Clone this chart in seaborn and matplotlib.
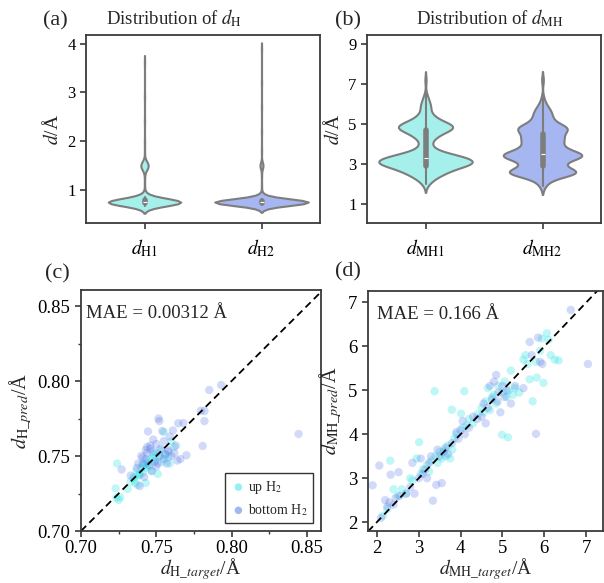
import numpy as np
import pandas as pd
import matplotlib
matplotlib.use("Agg")
import matplotlib.pyplot as plt
import seaborn as sns
from matplotlib.ticker import MultipleLocator, FormatStrFormatter

# ---------------- data ----------------
# violin (a): distribution of d_H (value grid + counts read from shape)
dH_cats = ["$d_{\\mathrm{H1}}$", "$d_{\\mathrm{H2}}$"]
dH1_vals = [0.66, 0.69, 0.71, 0.73, 0.75, 0.77, 0.79, 0.82, 0.86, 0.92, 1.10, 1.25,
            1.42, 1.48, 1.52, 1.58, 1.80, 2.00, 2.40, 2.90, 3.62]
dH1_cnts = [6, 20, 35, 55, 70, 50, 30, 14, 7, 4, 1, 1,
            6, 11, 10, 5, 1, 1, 1, 1, 1]
dH2_vals = [0.66, 0.69, 0.71, 0.73, 0.75, 0.77, 0.79, 0.82, 0.86, 0.92, 1.10, 1.30,
            1.46, 1.50, 1.54, 1.80, 2.20, 2.70, 3.20, 3.90]
dH2_cnts = [6, 22, 40, 70, 90, 65, 35, 14, 6, 3, 1, 1,
            3, 5, 3, 1, 1, 1, 1, 1]

# violin (b): distribution of d_MH
dMH_cats = ["$d_{\\mathrm{MH1}}$", "$d_{\\mathrm{MH2}}$"]
dMH1_vals = [2.0, 2.3, 2.6, 2.9, 3.1, 3.3, 3.5, 3.8, 4.1, 4.4, 4.7, 4.9,
             5.1, 5.4, 5.8, 6.1, 6.4, 7.2]
dMH1_cnts = [3, 10, 22, 32, 34, 30, 18, 7, 5, 12, 21, 21,
             14, 9, 6, 4, 2, 1]
dMH2_vals = [1.9, 2.2, 2.5, 2.65, 2.9, 3.1, 3.35, 3.5, 3.75, 4.0, 4.25, 4.5,
             4.75, 4.9, 5.2, 5.5, 5.75, 6.0, 6.3, 7.2]
dMH2_cnts = [2, 5, 18, 18, 8, 10, 20, 20, 12, 10, 13, 10,
             14, 10, 7, 6, 4, 2, 1, 1]

# scatter (c): d_H prediction vs target
upH_target = [0.723, 0.724, 0.7235, 0.725, 0.726, 0.731, 0.733, 0.735, 0.736, 0.7376,
              0.738, 0.739, 0.740, 0.741, 0.742, 0.743, 0.743, 0.744, 0.745, 0.746,
              0.747, 0.748, 0.749, 0.750, 0.751, 0.752, 0.753, 0.754, 0.755, 0.756,
              0.758, 0.759, 0.760, 0.762, 0.735, 0.737, 0.739, 0.741, 0.744, 0.748]
upH_pred = [0.7284, 0.745, 0.7222, 0.7207, 0.7225, 0.728, 0.733, 0.735, 0.732, 0.7307,
            0.737, 0.7373, 0.7418, 0.739, 0.744, 0.732, 0.742, 0.745, 0.743, 0.748,
            0.740, 0.7484, 0.747, 0.752, 0.738, 0.750, 0.754, 0.746, 0.766, 0.751,
            0.749, 0.745, 0.7596, 0.756, 0.736, 0.740, 0.738, 0.744, 0.746, 0.751]
botH_target = [0.727, 0.733, 0.737, 0.739, 0.740, 0.741, 0.742, 0.743, 0.744, 0.7445,
               0.745, 0.746, 0.747, 0.748, 0.749, 0.750, 0.751, 0.7515, 0.752, 0.753,
               0.754, 0.755, 0.756, 0.757, 0.758, 0.759, 0.760, 0.761, 0.762, 0.763,
               0.764, 0.7646, 0.766, 0.768, 0.770, 0.7808, 0.782, 0.782, 0.7796, 0.7852,
               0.7931, 0.8445, 0.741, 0.746, 0.750, 0.755, 0.738, 0.744, 0.752, 0.758,
               0.748, 0.743]
botH_pred = [0.741, 0.737, 0.742, 0.730, 0.750, 0.745, 0.736, 0.748, 0.752, 0.7664,
             0.744, 0.757, 0.740, 0.753, 0.746, 0.758, 0.745, 0.775, 0.7733, 0.755,
             0.7667, 0.748, 0.751, 0.745, 0.754, 0.763, 0.750, 0.767, 0.752, 0.757,
             0.747, 0.7718, 0.748, 0.772, 0.7505, 0.7567, 0.7733, 0.780, 0.7802, 0.794,
             0.7973, 0.7647, 0.749, 0.755, 0.743, 0.760, 0.745, 0.756, 0.750, 0.753,
             0.761, 0.754]

# scatter (d): d_MH prediction vs target
upMH_target = [2.15, 2.25, 2.4, 2.32, 2.5, 2.6, 2.7, 2.8, 2.85, 2.95, 3.01, 3.05, 3.1, 3.2,
               3.25, 3.3, 3.38, 3.4, 3.45, 3.5, 3.55, 3.6, 3.65, 3.7, 3.75, 3.79, 3.8, 3.85,
               3.9, 4.01, 4.05, 4.09, 4.15, 4.2, 4.3, 4.4, 4.5, 4.55, 4.6, 4.65, 4.7, 4.75,
               4.8, 4.85, 4.9, 4.99, 5.0, 5.05, 5.1, 5.13, 5.15, 5.2, 5.25, 5.3, 5.4, 5.5,
               5.55, 5.6, 5.65, 5.72, 5.8, 5.82, 5.9, 5.94, 5.98, 6.06, 6.1, 6.15, 6.25, 6.34]
upMH_pred = [2.15, 2.3, 2.75, 3.4, 2.6, 2.75, 2.65, 3.0, 2.95, 3.45, 3.82, 3.1, 3.2, 3.3,
             3.15, 3.4, 4.98, 3.5, 3.35, 3.6, 3.45, 3.65, 3.5, 3.75, 3.45, 4.56, 3.65, 3.9,
             4.0, 4.47, 4.15, 4.98, 4.2, 4.35, 4.25, 4.45, 4.6, 4.5, 4.75, 5.05, 4.55, 4.85,
             4.9, 4.7, 5.1, 3.99, 4.95, 5.2, 4.85, 3.93, 5.0, 5.45, 4.9, 5.05, 4.95, 5.7,
             5.8, 5.6, 5.25, 4.75, 5.65, 5.29, 5.9, 6.18, 5.17, 6.3, 6.15, 5.8, 5.7, 5.68]
botMH_target = [1.9, 2.06, 2.1, 2.2, 2.25, 2.3, 2.33, 2.4, 2.45, 2.52, 2.55, 2.7, 2.8, 2.85,
                2.9, 3.0, 3.05, 3.1, 3.15, 3.2, 3.25, 3.3, 3.34, 3.42, 3.45, 3.5, 3.55, 3.6,
                3.65, 3.7, 3.8, 3.9, 3.95, 4.0, 4.05, 4.1, 4.2, 4.3, 4.4, 4.5, 4.55, 4.6,
                4.65, 4.7, 4.75, 4.8, 4.85, 4.88, 4.9, 4.95, 5.0, 5.05, 5.1, 5.2, 5.3, 5.5,
                5.65, 5.7, 5.8, 5.85, 5.9, 5.95, 6.63, 7.04]
botMH_pred = [2.84, 3.29, 2.1, 2.5, 2.35, 2.45, 3.08, 2.4, 2.55, 3.14, 2.6, 2.65, 2.8, 3.35,
              2.65, 3.0, 3.45, 3.1, 3.2, 3.0, 3.35, 3.5, 2.49, 2.85, 3.65, 3.5, 2.89, 3.6,
              3.7, 3.55, 3.8, 4.05, 3.9, 4.1, 4.3, 4.0, 4.15, 4.4, 4.35, 4.4, 4.7, 4.25,
              4.6, 5.1, 4.8, 5.2, 5.35, 4.75, 4.95, 4.5, 5.1, 4.85, 5.0, 4.7, 5.1, 5.05,
              6.1, 5.8, 4.01, 6.2, 5.65, 5.6, 6.83, 5.6]

mae_texts = ["MAE = 0.00312 Å", "MAE = 0.166 Å"]
legend_labels = ["up H$_2$", "bottom H$_2$"]

# ---------------- style ----------------
sns.set_style("ticks")
plt.rcParams["font.family"] = ["Liberation Serif", "DejaVu Serif"]
plt.rcParams["mathtext.fontset"] = "stix"
plt.rcParams["axes.linewidth"] = 1.3
plt.rcParams["axes.edgecolor"] = "#3a3a3a"
plt.rcParams["xtick.color"] = "#3a3a3a"
plt.rcParams["ytick.color"] = "#3a3a3a"
plt.rcParams["xtick.labelcolor"] = "black"
plt.rcParams["ytick.labelcolor"] = "black"
plt.rcParams["xtick.major.width"] = 1.2
plt.rcParams["ytick.major.width"] = 1.2
plt.rcParams["xtick.minor.width"] = 1.0
plt.rcParams["ytick.minor.width"] = 1.0
plt.rcParams["xtick.major.size"] = 4
plt.rcParams["ytick.major.size"] = 4
plt.rcParams["xtick.minor.size"] = 2.5
plt.rcParams["ytick.minor.size"] = 2.5

W, H = 604, 583
fig = plt.figure(figsize=(W / 100, H / 100), dpi=100)


def box(l, t, r, b):
    return [l / W, 1 - b / H, (r - l) / W, (b - t) / H]


ax_a = fig.add_axes(box(86, 35, 320, 223))
ax_b = fig.add_axes(box(367, 35, 601, 223))
ax_c = fig.add_axes(box(81, 290, 321, 531))
ax_d = fig.add_axes(box(368, 291, 603, 531))

violin_colors = ["#a6f0ec", "#a6b6f0"]
line_grey = "#7d7d7d"


def draw_violins(ax, cats, vals_list, cnts_list, widths, bw_adj):
    for cat, vals, cnts, col, w in zip(cats, vals_list, cnts_list, violin_colors, widths):
        d = np.repeat(vals, cnts)
        df = pd.DataFrame({"cat": [cat] * len(d), "val": d})
        sns.violinplot(data=df, x="cat", y="val", order=cats, color=col, width=w,
                       saturation=1, linewidth=1.5, linecolor=line_grey, ax=ax,
                       inner="box", bw_adjust=bw_adj,
                       inner_kws=dict(box_width=4.0, whis_width=1.5, markersize=3))
    ax.set_xlabel("")
    ax.set_ylabel("$d$/Å", fontsize=14, labelpad=4)
    ax.tick_params(axis="x", labelsize=14, pad=6)
    ax.tick_params(axis="y", labelsize=12)
    ax.set_xlim(-0.5, 1.5)


draw_violins(ax_a, dH_cats, [dH1_vals, dH2_vals], [dH1_cnts, dH2_cnts], [0.62, 0.80], 0.7)
ax_a.set_ylim(0.32, 4.18)
ax_a.set_yticks([1, 2, 3, 4])

draw_violins(ax_b, dMH_cats, [dMH1_vals, dMH2_vals], [dMH1_cnts, dMH2_cnts], [0.80, 0.67], 0.6)
ax_b.set_ylim(0.05, 9.45)
ax_b.set_yticks([1, 3, 5, 7, 9])

scatter_colors = ["#3ee6e6", "#5a7be6"]


def draw_scatter(ax, ups, bots, lims, ticks, mae, xlab, ylab, legend):
    df_up = pd.DataFrame({"t": ups[0], "p": ups[1]})
    df_bot = pd.DataFrame({"t": bots[0], "p": bots[1]})
    sns.scatterplot(data=df_up, x="t", y="p", color=scatter_colors[0], alpha=0.33,
                    s=36, edgecolor="none", ax=ax, label=legend_labels[0] if legend else None)
    sns.scatterplot(data=df_bot, x="t", y="p", color=scatter_colors[1], alpha=0.28,
                    s=36, edgecolor="none", ax=ax, label=legend_labels[1] if legend else None)
    lo = min(lims[0][0], lims[1][0])
    hi = max(lims[0][1], lims[1][1])
    ax.plot([lo, hi], [lo, hi], ls="--", color="black", lw=1.3, dashes=(4, 2.5))
    ax.set_xlim(lims[0])
    ax.set_ylim(lims[1])
    ax.set_xticks(ticks)
    ax.set_yticks(ticks)
    ax.tick_params(axis="both", labelsize=13.5)
    ax.tick_params(axis="x", pad=2.5)
    ax.set_xlabel(xlab, fontsize=14, labelpad=-1)
    ax.set_ylabel(ylab, fontsize=14.5, labelpad=3)
    ax.text(0.02 if legend else 0.038, 0.885, mae, transform=ax.transAxes,
            fontsize=13.5, va="baseline", ha="left")
    if legend:
        leg = ax.legend(loc="lower right", fontsize=10, frameon=True, fancybox=False,
                        edgecolor="black", handletextpad=0.1, borderpad=0.4,
                        labelspacing=0.45, handlelength=1.2, borderaxespad=0.55,
                        markerscale=0.9)
        leg.get_frame().set_linewidth(1.0)
        for h in leg.legend_handles:
            h.set_alpha(0.55)
    else:
        if ax.get_legend() is not None:
            ax.get_legend().remove()


draw_scatter(ax_c, (upH_target, upH_pred), (botH_target, botH_pred),
             ((0.70, 0.8594), (0.70, 0.8607)), [0.70, 0.75, 0.80, 0.85], mae_texts[0],
             "$d_{\\mathrm{H}\\_target}$/Å", "$d_{\\mathrm{H}\\_pred}$/Å", True)
ax_c.xaxis.set_minor_locator(MultipleLocator(0.025))
ax_c.yaxis.set_minor_locator(MultipleLocator(0.025))
ax_c.xaxis.set_major_formatter(FormatStrFormatter("%.2f"))
ax_c.yaxis.set_major_formatter(FormatStrFormatter("%.2f"))

draw_scatter(ax_d, (upMH_target, upMH_pred), (botMH_target, botMH_pred),
             ((1.79, 7.4), (1.8, 7.26)), [2, 3, 4, 5, 6, 7], mae_texts[1],
             "$d_{\\mathrm{MH}\\_target}$/Å", "$d_{\\mathrm{MH}\\_pred}$/Å", False)

# panel letters and titles
fig.text(43 / W, 1 - 25 / H, "(a)", fontsize=16, va="baseline")
fig.text(335 / W, 1 - 25 / H, "(b)", fontsize=16, va="baseline")
fig.text(45 / W, 1 - 278 / H, "(c)", fontsize=16, va="baseline")
fig.text(335 / W, 1 - 276 / H, "(d)", fontsize=16, va="baseline")
fig.text(106 / W, 1 - 24 / H, "Distribution of $d_{\\mathrm{H}}$", fontsize=13.5, va="baseline")
fig.text(416 / W, 1 - 24 / H, "Distribution of $d_{\\mathrm{MH}}$", fontsize=13.5, va="baseline")

fig.savefig("out.png", dpi=100)
